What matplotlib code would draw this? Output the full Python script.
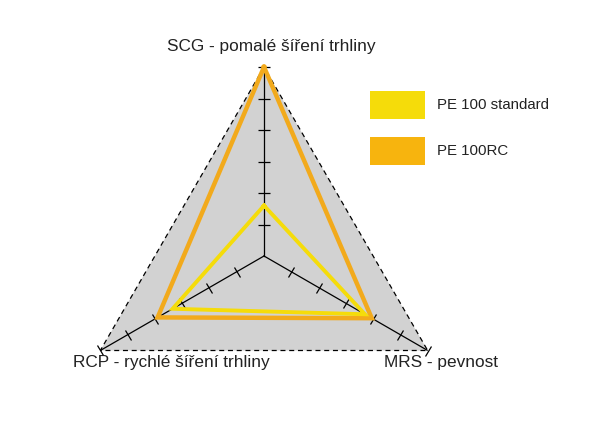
import numpy as np
import matplotlib
matplotlib.use("Agg")
import matplotlib.pyplot as plt
from matplotlib.markers import MarkerStyle
from matplotlib.transforms import Affine2D
from matplotlib.patches import Rectangle

plt.rcParams['font.family'] = ['Liberation Sans', 'DejaVu Sans']

categories = ["SCG - pomalé šíření trhliny", "RCP - rychlé šíření trhliny", "MRS - pevnost"]
series_names = ["PE 100 standard", "PE 100RC"]
standard = [1.6, 3.35, 3.7]
rc = [6.0, 3.9, 3.95]
scale_ticks = [1, 2, 3, 4, 5, 6]
r_max = 6

yellow = '#f5dc0a'
orange = '#f2aa1c'
gray = '#d2d2d2'

fig = plt.figure(figsize=(5.95, 4.21), dpi=100)
W, H = 595, 421
cx, cy, R = 264, 256, 189
ax = fig.add_axes([(cx - R) / W, (H - cy - R) / H, 2 * R / W, 2 * R / H], projection='polar')
ax.set_theta_offset(np.pi / 2)
ax.set_ylim(0, r_max)
ax.grid(False)
ax.set_xticks([])
ax.set_yticks([])
ax.spines['polar'].set_visible(False)
ax.patch.set_alpha(0)

n = len(categories)
theta = np.arange(n) * 2 * np.pi / n
theta_c = np.append(theta, theta[0])

# background triangle
outer = np.full(n + 1, r_max)
ax.fill(theta_c, outer, color=gray, zorder=1, lw=0)
ax.plot(theta_c, outer, color='black', lw=0.9, ls=(0, (4, 3)), zorder=2)

# axes and ticks
for t in theta:
    ax.plot([t, t], [0, r_max], color='black', lw=0.9, zorder=3)
    m = MarkerStyle('_', transform=Affine2D().rotate_deg(np.degrees(t)))
    ax.plot([t] * len(scale_ticks), scale_ticks, ls='none', marker=m,
            markersize=8, markeredgewidth=0.9, color='black', zorder=3, clip_on=False)

# data
ax.plot(theta_c, rc + rc[:1], color=orange, lw=3.2, solid_joinstyle='miter', zorder=4, clip_on=False)
ax.plot(theta_c, standard + standard[:1], color=yellow, lw=2.8, solid_joinstyle='miter', zorder=5, clip_on=False)

# category labels
fs = 12.4
fig.text(271.5 / W, 1 - 47 / H, categories[0], ha='center', va='center', fontsize=fs, color='#222222')
fig.text(171.5 / W, 1 - 362 / H, categories[1], ha='center', va='center', fontsize=fs, color='#222222')
fig.text(441 / W, 1 - 362 / H, categories[2], ha='center', va='center', fontsize=fs, color='#222222')

# legend
leg = [(yellow, 91, 119, 105), ('#f7b40e', 137, 165, 151)]
for (c, y0, y1, yt), name in zip(leg, series_names):
    fig.patches.append(Rectangle((370 / W, 1 - y1 / H), 55 / W, (y1 - y0) / H,
                                 transform=fig.transFigure, color=c, lw=0))
    fig.text(437 / W, 1 - yt / H, name, ha='left', va='center', fontsize=10.8, color='#222222')

fig.savefig('out.png', dpi=100)
